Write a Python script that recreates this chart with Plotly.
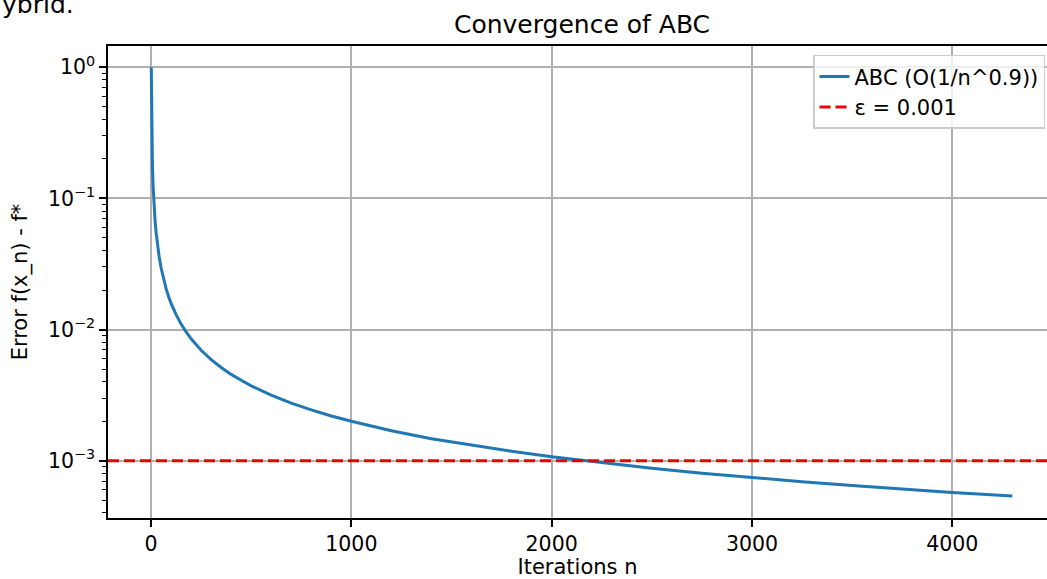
import plotly.graph_objects as go

# Data
iterations = [1, 2, 3, 4, 5, 7, 10, 13, 16, 20, 25, 30, 40, 50, 60, 75, 90, 100, 125, 150,
              175, 200, 250, 300, 350, 400, 450, 500, 600, 700, 800, 900, 1000, 1200, 1400,
              1600, 1800, 2000, 2250, 2500, 2750, 3000, 3250, 3500, 3750, 4000, 4300]
error = [1.0, 0.536, 0.372, 0.287, 0.235, 0.174, 0.126, 0.0994, 0.0825, 0.0675, 0.0552,
         0.0468, 0.0362, 0.0296, 0.0251, 0.0205, 0.0174, 0.0158, 0.0130, 0.0110, 0.00958,
         0.00850, 0.00695, 0.00590, 0.00514, 0.00455, 0.00410, 0.00372, 0.00316, 0.00275,
         0.00244, 0.00219, 0.00200, 0.00169, 0.00147, 0.00131, 0.00118, 0.00107, 0.000961,
         0.000874, 0.000803, 0.000742, 0.000690, 0.000646, 0.000607, 0.000573, 0.000537]
epsilon = 0.001

series_name = "ABC (O(1/n^0.9))"
eps_name = "ε = 0.001"
title_text = "Convergence of ABC"
x_label = "Iterations n"
y_label = "Error f(x_n) - f*"
x_ticks = [0, 1000, 2000, 3000, 4000]
y_ticks = [1, 0.1, 0.01, 0.001]
y_ticktext = ["10<sup>0</sup>", "10<sup>−1</sup>", "10<sup>−2</sup>", "10<sup>−3</sup>"]

FONT = "DejaVu Sans"
minor_vals = [m * 10.0 ** e for e in range(-4, 1) for m in range(2, 10)]

fig = go.Figure()
fig.add_trace(go.Scatter(
    x=iterations, y=error, mode="lines", name=series_name,
    line=dict(color="#1f77b4", width=3),
))
fig.add_hline(y=epsilon, line=dict(color="#ee0000", width=3, dash="11px,5px"),
              showlegend=True, name=eps_name, layer="above")

fig.update_layout(
    width=1047, height=579,
    margin=dict(l=108, r=0, t=46, b=61, pad=0, autoexpand=False),
    paper_bgcolor="white", plot_bgcolor="white",
    font=dict(family=FONT, color="black", size=21),
    title=dict(text=title_text, font=dict(size=25, family=FONT, color="black"),
               xref="paper", x=0.5048, xanchor="center",
               yref="container", y=0.9585, yanchor="middle"),
    legend=dict(xref="container", x=1045 / 1047, y=0.9810, xanchor="right", yanchor="top",
                bgcolor="rgba(255,255,255,0.8)", bordercolor="#cccccc", borderwidth=1.5,
                font=dict(size=21, family=FONT, color="black"), tracegroupgap=0),
    showlegend=True,
)
fig.update_xaxes(
    range=[-215, 4473], tickvals=x_ticks, ticks="outside", ticklen=7, tickwidth=1.5,
    tickcolor="black", showline=True, linecolor="black", linewidth=1.5, mirror=True,
    showgrid=True, gridcolor="#b0b0b0", gridwidth=1.5, zeroline=False, automargin=False,
    tickfont=dict(size=20.5, family=FONT, color="black"),
    title=dict(text=x_label, font=dict(size=21, family=FONT, color="black"), standoff=9),
)
fig.update_yaxes(
    type="log", range=[-3.437, 0.162], tickvals=y_ticks, ticktext=y_ticktext,
    ticks="outside", ticklen=7, tickwidth=1.5, tickcolor="black",
    showline=True, linecolor="black", linewidth=1.5, mirror=False,
    showgrid=True, gridcolor="#b0b0b0", gridwidth=1.5, zeroline=False, automargin=False,
    tickfont=dict(size=20.5, family=FONT, color="black"),
    minor=dict(tickvals=minor_vals, ticks="outside", ticklen=4, tickwidth=1.2,
               tickcolor="black", showgrid=False),
    title=dict(text=y_label, font=dict(size=21, family=FONT, color="black"), standoff=15),
)
fig.add_annotation(text="ybrid.", xref="paper", yref="paper", x=-0.115, y=1.053,
                   xanchor="left", yanchor="bottom", showarrow=False,
                   font=dict(size=25, family=FONT, color="black"))

fig.write_html("out.html", config={"displayModeBar": False},
               post_script="document.body.style.margin='0px';")
